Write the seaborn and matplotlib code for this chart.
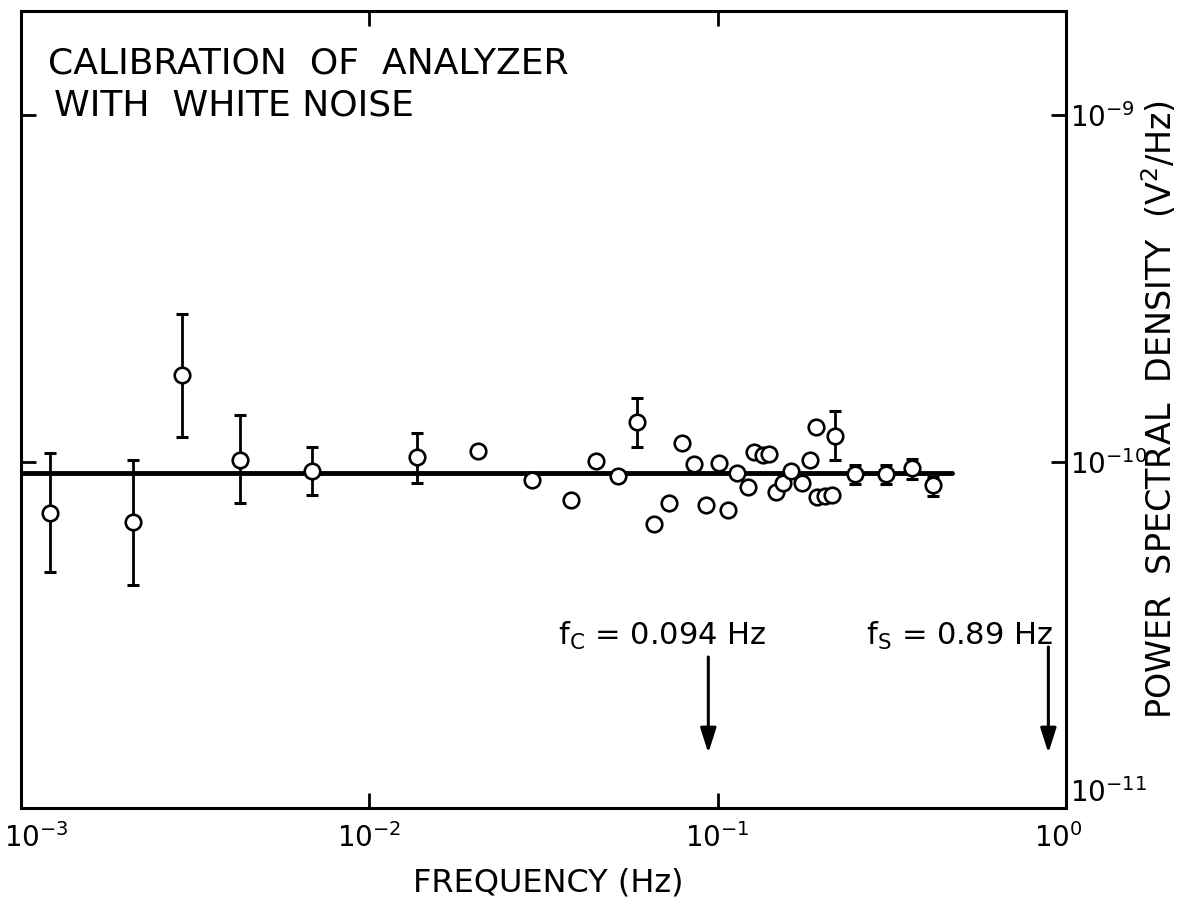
import numpy as np
import matplotlib
matplotlib.use("Agg")
import matplotlib.pyplot as plt
import matplotlib.transforms as mtransforms
import seaborn as sns

# ---------------- data ----------------
freq = [1.21e-3, 2.10e-3, 2.90e-3, 4.25e-3, 6.85e-3, 1.37e-2, 2.05e-2, 2.93e-2,
        3.79e-2, 4.48e-2, 5.18e-2, 5.87e-2, 6.57e-2, 7.25e-2, 7.90e-2, 8.55e-2,
        9.26e-2, 0.1009, 0.1071, 0.1137, 0.1223, 0.1272, 0.1350, 0.1405, 0.1472,
        0.1541, 0.1624, 0.1747, 0.1842, 0.1916, 0.1929, 0.2034, 0.2131, 0.2173,
        0.248, 0.3045, 0.3616, 0.4154]
psd = [7.1e-11, 6.7e-11, 1.78e-10, 1.01e-10, 9.4e-11, 1.03e-10, 1.076e-10, 8.87e-11,
       7.76e-11, 1.007e-10, 9.11e-11, 1.305e-10, 6.62e-11, 7.61e-11, 1.135e-10, 9.87e-11,
       7.51e-11, 9.93e-11, 7.27e-11, 9.29e-11, 8.47e-11, 1.069e-10, 1.047e-10, 1.055e-10,
       8.19e-11, 8.70e-11, 9.42e-11, 8.70e-11, 1.013e-10, 1.262e-10, 7.92e-11, 7.97e-11,
       8.03e-11, 1.189e-10, 9.23e-11, 9.23e-11, 9.61e-11, 8.58e-11]

# points that carry error bars
eb_freq = [1.21e-3, 2.10e-3, 2.90e-3, 4.25e-3, 6.85e-3, 1.37e-2, 5.87e-2, 0.2173,
           0.248, 0.3045, 0.3616, 0.4154]
eb_psd = [7.1e-11, 6.7e-11, 1.78e-10, 1.01e-10, 9.4e-11, 1.03e-10, 1.305e-10, 1.189e-10,
          9.23e-11, 9.23e-11, 9.61e-11, 8.58e-11]
eb_low = [4.8e-11, 4.4e-11, 1.18e-10, 7.6e-11, 8.0e-11, 8.7e-11, 1.105e-10, 1.013e-10,
          8.64e-11, 8.64e-11, 8.93e-11, 7.97e-11]
eb_high = [1.06e-10, 1.01e-10, 2.66e-10, 1.36e-10, 1.105e-10, 1.21e-10, 1.53e-10, 1.404e-10,
           9.80e-11, 9.80e-11, 1.02e-10, 9.05e-11]

# white-noise level line
fit_freq = [1e-3, 0.47]
fit_psd = [9.3e-11, 9.3e-11]

fc = 0.094
fs = 0.89

xticks = [1e-3, 1e-2, 1e-1, 1e0]
xticklabels = [r"$10^{-3}$", r"$10^{-2}$", r"$10^{-1}$", r"$10^{0}$"]
yticks = [1e-11, 1e-10, 1e-9]
yticklabels = [r"$10^{-11}$", r"$10^{-10}$", r"$10^{-9}$"]

# ---------------- style ----------------
sns.set_style("ticks")
plt.rcParams["font.family"] = ["DejaVu Sans"]
plt.rcParams["mathtext.fontset"] = "dejavusans"
plt.rcParams["mathtext.default"] = "regular"
plt.rcParams["text.color"] = "black"
plt.rcParams["axes.labelcolor"] = "black"

fig = plt.figure(figsize=(11.79, 9.08), dpi=100)
ax = fig.add_axes([21 / 1179, 100 / 908, 1045 / 1179, 797 / 908])
ax.set_xscale("log")
ax.set_yscale("log")

# line
sns.lineplot(x=fit_freq, y=fit_psd, ax=ax, color="black", linewidth=3.5, zorder=1)

# error bars
eb_psd_a = np.array(eb_psd)
yerr = [eb_psd_a - np.array(eb_low), np.array(eb_high) - eb_psd_a]
ax.errorbar(eb_freq, eb_psd, yerr=yerr, fmt="none", ecolor="black",
            elinewidth=2.0, capsize=4.5, capthick=2.2, zorder=2)

# points
sns.scatterplot(x=freq, y=psd, ax=ax, marker="o", s=125, facecolor="white",
                edgecolor="black", linewidth=1.9, zorder=4)

ax.set_xlim(1e-3, 1e0)
ax.set_ylim(1e-11, 2.0e-9)

# inner x tick labels via the axis; the two edge labels are placed separately
shown_xlabels = [""] + xticklabels[1:-1] + [""]
ax.set_xticks(xticks)
ax.set_xticklabels(shown_xlabels)
ax.set_yticks(yticks)
ax.set_yticklabels(yticklabels)
ax.minorticks_off()

ax.tick_params(which="major", direction="in", length=11, width=2.0,
               top=True, right=True, left=True, bottom=True,
               labelleft=False, labelright=True, labelbottom=True, labeltop=False,
               labelsize=20, colors="black")
ax.tick_params(axis="x", pad=11)
ax.tick_params(axis="y", pad=3)

yt = ax.yaxis.get_major_ticks()
yt[0].label2.set_verticalalignment("bottom")

xtrans = mtransforms.blended_transform_factory(ax.transData, ax.transAxes)
ax.annotate(xticklabels[0], xy=(xticks[0], 0), xycoords=xtrans, xytext=(-12, -11),
            textcoords="offset points", ha="left", va="top", fontsize=20,
            annotation_clip=False)
ax.annotate(xticklabels[-1], xy=(xticks[-1], 0), xycoords=xtrans, xytext=(-5.5, -11),
            textcoords="offset points", ha="center", va="top", fontsize=20,
            annotation_clip=False)

for sp in ax.spines.values():
    sp.set_linewidth(2.2)
    sp.set_color("black")
    sp.set_visible(True)

ax.set_xlabel("FREQUENCY (Hz)", fontsize=23)
ax.xaxis.set_label_coords(0.505, -0.094)
ax.xaxis.label.set_verticalalignment("center")
ax.yaxis.set_label_position("right")
ax.set_ylabel("POWER  SPECTRAL  DENSITY  (V$^2$/Hz)", fontsize=24)
ax.yaxis.set_label_coords(1.090, 0.5)
ax.yaxis.label.set_verticalalignment("center")

# title text inside axes
ax.text(0.026, 0.921, "CALIBRATION  OF  ANALYZER", transform=ax.transAxes,
        fontsize=26, ha="left", va="baseline")
ax.text(0.032, 0.8695, "WITH  WHITE NOISE", transform=ax.transAxes,
        fontsize=26, ha="left", va="baseline")

# annotations
trans = mtransforms.blended_transform_factory(ax.transData, ax.transAxes)
ax.text(0.514, 0.2045, r"$f_{C}$ = 0.094 Hz", transform=ax.transAxes,
        fontsize=22, ha="left", va="baseline")
ax.text(0.8086, 0.2045, r"$f_{S}$ = 0.89 Hz", transform=ax.transAxes,
        fontsize=22, ha="left", va="baseline")

arrow_kw = dict(arrowstyle="-|>,head_length=0.75,head_width=0.24", color="black",
                lw=2.2, shrinkA=0, shrinkB=0, mutation_scale=20)
ax.annotate("", xy=(fc, 0.069), xycoords=trans, xytext=(fc, 0.1895),
            textcoords=trans, arrowprops=arrow_kw)
ax.annotate("", xy=(fs, 0.069), xycoords=trans, xytext=(fs, 0.202),
            textcoords=trans, arrowprops=arrow_kw)

fig.savefig("out.png", dpi=100, facecolor="white")
